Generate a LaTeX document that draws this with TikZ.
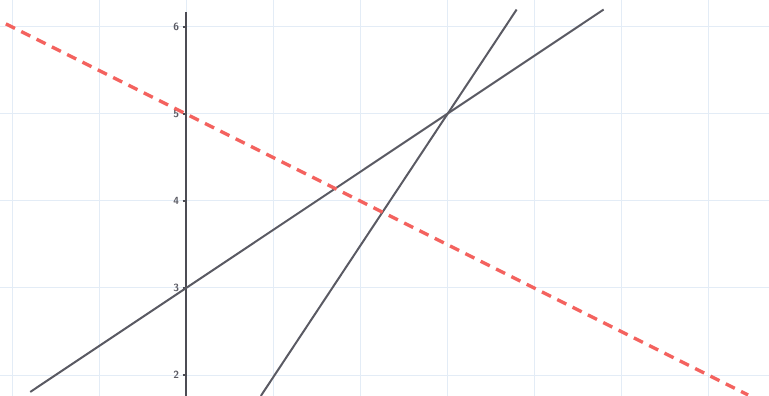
\documentclass[tikz,border=0pt]{standalone}
\usepackage{tikz}
\usetikzlibrary{calc}
\definecolor{gridblue}{HTML}{E3ECF6}
\definecolor{linegrey}{HTML}{5A5A63}
\definecolor{dashred}{HTML}{F4625E}
\tikzset{
  gridline/.style  = {draw=gridblue, line width=0.3pt},
  axisline/.style  = {draw=linegrey!85!black, line width=0.8pt},
  graphline/.style = {draw=linegrey, line width=0.65pt},
  redline/.style   = {draw=dashred, line width=1.1pt, dash pattern=on 3.3pt off 2.3pt},
  ticklabel/.style = {anchor=east, inner sep=0.6pt, text=linegrey,
                      font=\fontsize{3.4}{3.6}\selectfont\sffamily\bfseries},
}
\begin{document}
\begin{tikzpicture}
  \useasboundingbox[fill=white] (-2.138,1.759) rectangle (6.701,6.310);
  % grid
  \foreach \gx in {-2,...,6}
    \draw[gridline] (\gx,1.759) -- (\gx,6.310);
  \foreach \gy in {2,...,6}
    \draw[gridline] (-2.138,\gy) -- (6.701,\gy);
  % y-axis with ticks
  \draw[axisline] (0,1.759) -- (0,6.17);
  \foreach \gy in {2,...,6} {
    \draw[axisline, line width=0.5pt] (-0.04,\gy) -- (0,\gy);
    \node[ticklabel] (lab\gy) at (-0.05,\gy) {\gy};
  }
  % lines
  \coordinate (aStart) at (-1.79,1.805);
  \coordinate (aEnd)   at (4.80,6.20);
  \coordinate (bStart) at (0.86,1.759);
  \coordinate (bEnd)   at (3.80,6.20);
  \coordinate (cStart) at (-2.07,6.035);
  \coordinate (cEnd)   at (6.46,1.77);
  \draw[graphline] (aStart) -- (aEnd);
  \draw[graphline] (bStart) -- (bEnd);
  \draw[redline] (cStart) -- (cEnd);
\end{tikzpicture}
\end{document}
